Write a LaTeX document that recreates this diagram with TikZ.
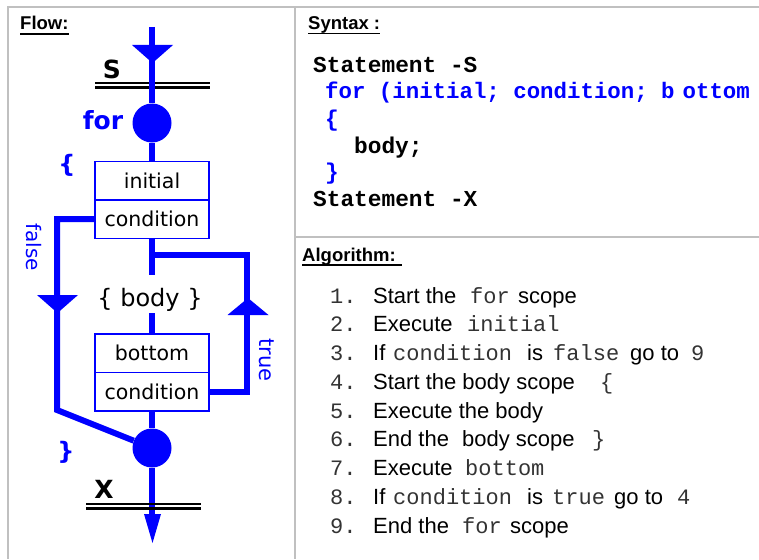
\documentclass[tikz,border=0pt]{standalone}
\usepackage{fontspec}
\setmainfont{Liberation Sans}
\newfontfamily\monofont{Liberation Mono}
\newfontfamily\flowfont{DejaVu Sans}
\definecolor{fblue}{RGB}{0,0,255}
\definecolor{framegray}{RGB}{192,192,192}
\tikzset{
  flow/.style={draw=fblue, line width=6pt},
  fbox/.style={draw=fblue, line width=1.5pt, fill=white, minimum width=114pt, minimum height=38.5pt, inner sep=0pt, font=\flowfont\fontsize{20.5}{20.5}\selectfont},
  dot/.style={circle, fill=fblue, minimum size=39pt, inner sep=0pt},
  frameline/.style={draw=framegray, line width=1.8pt},
  head/.style={anchor=base west, inner sep=0pt, font=\bfseries\fontsize{18.5}{18.5}\selectfont},
  ulined/.style={line width=1.4pt},
  flab/.style={inner sep=0pt, text=fblue, font=\flowfont\fontsize{20}{20}\selectfont},
  big/.style={inner sep=0pt, font=\flowfont\bfseries\fontsize{25}{25}\selectfont},
  dbl/.style={draw=black, line width=2.5pt},
  syn/.style={anchor=base west, inner sep=0pt, font=\monofont\bfseries\fontsize{22.8}{22.8}\selectfont},
  alg/.style={anchor=base west, inner sep=0pt, font=\fontsize{22}{22}\selectfont},
  algm/.style={anchor=base west, inner sep=0pt, text=black!80, font=\monofont\fontsize{22}{22}\selectfont},
}
\begin{document}
\begin{tikzpicture}[x=1pt,y=-1pt]
\fill[white] (0,0) rectangle (759,559);
\useasboundingbox (0,0) rectangle (759,559);

% frame
\draw[frameline] (8,559) -- (8,7) -- (759,7);
\draw[frameline] (295,7) -- (295,559);
\draw[frameline] (295,237) -- (759,237);

% headings
\node[head] (hflow) at (20,30) {Flow:};
\draw[ulined] ([yshift=-4pt]hflow.base west) -- ([yshift=-4pt]hflow.base east);
\node[head] (hsyn) at (308,30) {Syntax :};
\draw[ulined] ([yshift=-3.5pt]hsyn.base west) -- ([yshift=-3.5pt]hsyn.base east);
\node[head] (halg) at (302,261) {Algorithm:};
\draw[ulined] ([yshift=-4pt]halg.base west) -- ++(100,0);

% ---------- flow ----------
\coordinate (top) at (152,27);
\node[dot] (c1) at (152,123) {};
\node[fbox] (b1) at (152,180.5) {initial};
\node[fbox] (b2) at (152,219) {condition};
\node[inner sep=0pt, anchor=base, text height=31pt, text depth=7pt, font=\flowfont\fontsize{24}{24}\selectfont] (body) at (150,306) {\{ body \}};
\node[fbox] (b3) at (152,353) {bottom};
\node[fbox] (b4) at (152,391.5) {condition};
\node[dot] (c2) at (152,448) {};
\coordinate (bot) at (152,515);
\coordinate (tj) at (152,255);
\coordinate (tr) at (247,255);
\coordinate (fc) at (57,410);

% S double line (under blue)
\draw[dbl, line width=2pt] (95,83) -- (210,83);
\draw[dbl] (95,87.5) -- (210,87.5);

% main line
\draw[flow] (top) -- (c1);
\fill[fblue] (132,45) -- (173,45) -- (152.5,63) -- cycle;
\draw[flow] (c1) -- (b1);
\draw[flow] (b2.south) -- (b2.south |- body.north);
\draw[flow] (b3.north |- body.south) -- (b3.north);
\draw[flow] (b4) -- (c2);
\draw[flow] (c2) -- (bot);
\fill[fblue] (144,514) -- (161,514) -- (152.5,543) -- cycle;

% true branch
\draw[flow, line join=miter] (b4.east) -| (tr) -- (tj);
\fill[fblue] (227.5,315) -- (268.5,315) -- (248,298) -- cycle;

% false branch
\draw[flow, line join=miter] (b2.west) -| (fc) -- (c2);
\fill[fblue] (37,295) -- (78,295) -- (57.5,313) -- cycle;

% redraw boxes on top
\node[fbox] (b1r) at (b1) {initial};
\node[fbox] (b2r) at (b2) {condition};
\node[fbox] (b3r) at (b3) {bottom};
\node[fbox] (b4r) at (b4) {condition};

% X double line (over blue)
\draw[dbl, line width=2pt] (86,503.5) -- (201,503.5);
\draw[dbl, line width=3.5pt] (86,508.5) -- (201,508.5);

% flow labels
\node[big] (lS) at (112,69) {S};
\node[big] (lX) at (104,489) {X};
\node[big, text=fblue] (lfor) at (103,120) {for};
\node[big, text=fblue, font=\flowfont\bfseries\fontsize{24}{24}\selectfont] (lob) at (67,165) {\{};
\node[big, text=fblue, font=\flowfont\bfseries\fontsize{24}{24}\selectfont] (lcb) at (66,452) {\}};
\node[flab, rotate=-90] (lfalse) at (34,247) {false};
\node[flab, rotate=-90, font=\flowfont\fontsize{21}{21}\selectfont] (ltrue) at (267,360) {true};

% ---------- syntax ----------
\node[syn] (s1) at (313,73) {Statement -S};
\node[syn, text=fblue, font=\monofont\bfseries\fontsize{22.4}{22.4}\selectfont] (s2) at (325,99) {for (initial; condition; b\hspace{8pt}ottom};
\node[syn, text=fblue] (s3) at (325,126) {\{};
\node[syn] (s4) at (354,153) {body;};
\node[syn, text=fblue] (s5) at (325,179) {\}};
\node[syn] (s6) at (313,206) {Statement -X};

% ---------- algorithm ----------
\node[algm] (n1) at (330,303) {1.};
\node[alg] (t1a) at (373,303) {Start the};
\node[algm] (t1b) at (470,303) {for};
\node[alg] (t1c) at (518,303) {scope};

\node[algm] (n2) at (330,331.5) {2.};
\node[alg] (t2a) at (373,331.5) {Execute};
\node[algm] (t2b) at (467,331.5) {initial};

\node[algm] (n3) at (330,360) {3.};
\node[alg] (t3a) at (373,360) {If};
\node[algm] (t3b) at (393,360) {condition};
\node[alg] (t3c) at (527,360) {is};
\node[algm] (t3d) at (553,360) {false};
\node[alg] (t3e) at (630,360) {go to};
\node[algm] (t3f) at (691,360) {9};

\node[algm] (n4) at (330,389) {4.};
\node[alg] (t4a) at (373,389) {Start the body scope};
\node[algm] (t4b) at (600,389) {\{};

\node[algm] (n5) at (330,418) {5.};
\node[alg] (t5a) at (373,418) {Execute the body};

\node[algm] (n6) at (330,446.5) {6.};
\node[alg] (t6a) at (373,446.5) {End the};
\node[alg] (t6b) at (462,446.5) {body scope};
\node[algm] (t6c) at (592,446.5) {\}};

\node[algm] (n7) at (330,475) {7.};
\node[alg] (t7a) at (373,475) {Execute};
\node[algm] (t7b) at (465,475) {bottom};

\node[algm] (n8) at (330,504) {8.};
\node[alg] (t8a) at (373,504) {If};
\node[algm] (t8b) at (393,504) {condition};
\node[alg] (t8c) at (527,504) {is};
\node[algm] (t8d) at (552,504) {true};
\node[alg] (t8e) at (614,504) {go to};
\node[algm] (t8f) at (677,504) {4};

\node[algm] (n9) at (330,533) {9.};
\node[alg] (t9a) at (373,533) {End the};
\node[algm] (t9b) at (462,533) {for};
\node[alg] (t9c) at (510,533) {scope};
\end{tikzpicture}
\end{document}
